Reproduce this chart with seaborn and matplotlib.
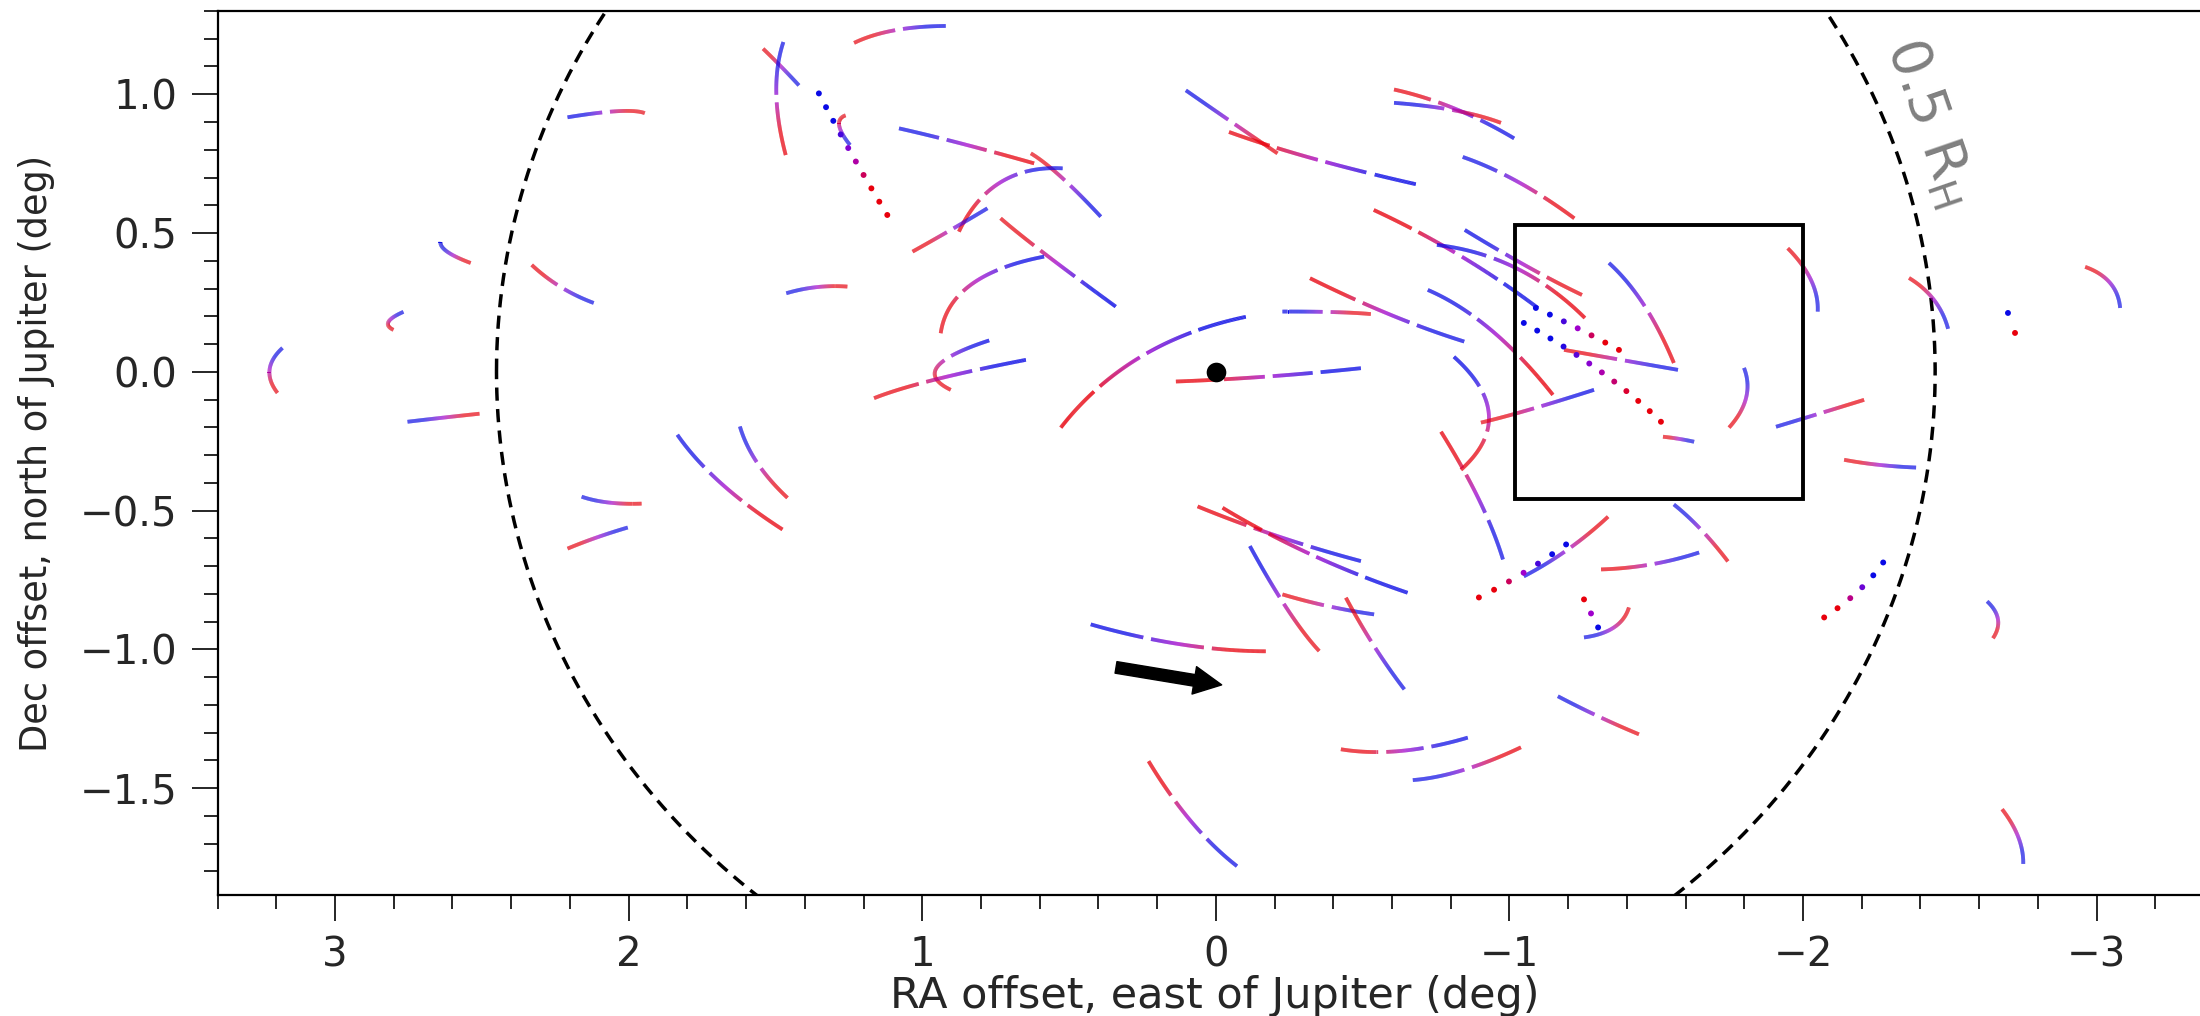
import numpy as np
import pandas as pd
import matplotlib
matplotlib.use("Agg")
import matplotlib.pyplot as plt
import seaborn as sns
from matplotlib.collections import LineCollection
from matplotlib.colors import LinearSegmentedColormap
from matplotlib.patches import Rectangle, FancyArrowPatch
from matplotlib.ticker import MultipleLocator

# Dashed tracks (deg): red end, middle point, blue end of each arc
red_x = [3.196, 2.801, 2.538, 2.330, 1.945, 2.508, 1.956, 2.208, 1.476, 1.459,
         -0.170, 0.062, -0.023, -0.352, -0.227, -0.443, -0.426, -1.039, 0.229, -0.835,
         -0.767, -0.903, -1.336, -1.407, -1.312, -1.744, -1.441, -2.647, -2.678, -1.948,
         -2.361, -2.961, -2.140, -2.208, -1.560, -1.186, -1.748, -1.523, -0.538, -1.257,
         -1.247, -1.148, 1.232, 1.542, 1.465, 1.261, 0.619, 0.630, 0.875, 1.033,
         0.733, 0.937, 1.255, 0.903, 1.164, 0.528, 0.136, -0.528, -0.321, -0.210,
         -0.045, -0.607, -0.971, -1.221]
red_y = [-0.076, 0.151, 0.392, 0.385, 0.932, -0.151, -0.475, -0.637, -0.568, -0.454,
         -1.007, -0.485, -0.490, -1.006, -0.802, -0.814, -1.360, -1.353, -1.403, -0.353,
         -0.216, -0.183, -0.522, -0.849, -0.712, -0.683, -1.306, -0.960, -1.576, 0.445,
         0.338, 0.378, -0.317, -0.101, 0.032, 0.079, -0.201, -0.234, 0.583, 0.194,
         0.277, -0.083, 1.185, 1.164, 0.781, 0.924, 0.751, 0.787, 0.505, 0.433,
         0.553, 0.139, 0.307, -0.065, -0.095, -0.201, -0.035, 0.208, 0.337, 0.787,
         0.864, 1.017, 0.897, 0.553]
mid_x = [3.223, 2.818, 2.617, 2.232, 2.037, 2.630, 2.068, 2.109, 1.687, 1.562,
         0.119, -0.210, -0.324, -0.244, -0.381, -0.539, -0.630, -0.842, 0.084, -0.930,
         -0.896, -1.066, -1.199, -1.356, -1.482, -1.652, -1.302, -2.664, -2.733, -2.027,
         -2.446, -3.046, -2.256, -2.054, -1.458, -1.380, -1.806, -1.574, -0.828, -1.022,
         -1.063, -0.937, 1.096, 1.482, 1.497, 1.283, 0.869, 0.528, 0.733, 0.903,
         0.585, 0.835, 1.360, 0.948, 0.960, 0.256, -0.176, -0.403, -0.596, -0.055,
         -0.329, -0.812, -0.812, -1.028]
mid_y = [0.007, 0.180, 0.432, 0.306, 0.939, -0.165, -0.471, -0.597, -0.400, -0.328,
         -0.982, -0.592, -0.658, -0.856, -0.844, -0.988, -1.366, -1.435, -1.620, -0.155,
         -0.460, -0.137, -0.640, -0.921, -0.694, -0.568, -1.241, -0.892, -1.676, 0.331,
         0.259, 0.320, -0.335, -0.151, 0.241, 0.043, -0.094, -0.241, 0.421, 0.374,
         0.378, 0.151, 1.230, 1.101, 1.003, 0.888, 0.823, 0.703, 0.683, 0.511,
         0.427, 0.313, 0.305, 0.019, -0.029, 0.054, -0.017, 0.215, 0.205, 0.899,
         0.769, 0.949, 0.942, 0.685]
blue_x = [3.179, 2.767, 2.641, 2.119, 2.208, 2.753, 2.160, 2.003, 1.834, 1.621,
          0.426, -0.494, -0.653, -0.116, -0.539, -0.642, -0.858, -0.671, -0.072, -0.811,
          -0.978, -1.288, -1.049, -1.254, -1.646, -1.560, -1.165, -2.627, -2.750, -2.050,
          -2.494, -3.080, -2.385, -1.908, -1.339, -1.574, -1.799, -1.629, -1.097, -0.753,
          -0.848, -0.722, 0.920, 1.420, 1.473, 1.246, 1.079, 0.392, 0.522, 0.778,
          0.341, 0.585, 1.463, 0.772, 0.647, -0.102, -0.494, -0.227, -0.846, 0.102,
          -0.681, -1.016, -0.607, -0.841]
blue_y = [0.086, 0.216, 0.468, 0.248, 0.917, -0.180, -0.450, -0.561, -0.227, -0.197,
          -0.910, -0.682, -0.796, -0.628, -0.874, -1.144, -1.318, -1.471, -1.781, 0.054,
          -0.676, -0.065, -0.737, -0.957, -0.651, -0.478, -1.169, -0.827, -1.773, 0.217,
          0.155, 0.230, -0.345, -0.198, 0.392, 0.007, 0.014, -0.252, 0.230, 0.457,
          0.511, 0.295, 1.246, 1.032, 1.188, 0.817, 0.877, 0.559, 0.733, 0.589,
          0.235, 0.415, 0.283, 0.113, 0.043, 0.198, 0.013, 0.217, 0.109, 1.014,
          0.676, 0.841, 0.969, 0.774]

# Dotted (faint) tracks
dot_red_x = [1.119, -0.896, -1.254, -2.072, -2.722, -1.373, -1.516]
dot_red_y = [0.565, -0.813, -0.820, -0.885, 0.140, 0.079, -0.180]
dot_mid_x = [1.244, -1.039, -1.278, -2.187, -2.709, -1.230, -1.312]
dot_mid_y = [0.791, -0.730, -0.871, -0.791, 0.176, 0.158, 0.000]
dot_blue_x = [1.352, -1.193, -1.302, -2.273, -2.698, -1.090, -1.049]
dot_blue_y = [1.003, -0.622, -0.921, -0.687, 0.212, 0.230, 0.176]

hill_radius = 2.45          # 0.5 R_H circle
box_x = (-1.02, -2.00)
box_y = (-0.46, 0.53)
arrow_tail = (0.34, -1.065)
arrow_tip = (-0.02, -1.128)

sns.set_style("ticks")
plt.rcParams['font.family'] = ['DejaVu Sans']

# red -> purple -> blue along each track
cmap = LinearSegmentedColormap.from_list(
    "track", [(0.0, "#e8000c"), (0.22, "#e8000c"), (0.5, "#a000cc"),
              (0.78, "#0a0ae6"), (1.0, "#0a0ae6")])

fig = plt.figure(figsize=(22, 10.16), dpi=100)
ax = fig.add_axes([0.0989, 0.1191, 0.9075, 0.8701])
ax.set_xlim(3.4, -3.4)
ax.set_ylim(-1.885, 1.3)


def curve(p_red, p_mid, p_blue, n=300):
    # quadratic curve through the three read-off points
    p0, pm, p2 = np.asarray(p_red), np.asarray(p_mid), np.asarray(p_blue)
    p1 = 2 * pm - (p0 + p2) / 2
    t = np.linspace(0, 1, n)[:, None]
    pts = (1 - t) ** 2 * p0 + 2 * (1 - t) * t * p1 + t ** 2 * p2
    disp = ax.transData.transform(pts)
    s = np.concatenate([[0], np.cumsum(np.hypot(*np.diff(disp, axis=0).T))])
    return pts, s


# dashed tracks
segs, cols = [], []
dash, gap = 46, 8
for rx, ry, mx, my, bx, by in zip(red_x, red_y, mid_x, mid_y, blue_x, blue_y):
    pts, s = curve((rx, ry), (mx, my), (bx, by))
    total = s[-1]
    n = max(1, int(round((total + gap) / (dash + gap))))
    d = (total - (n - 1) * gap) / n
    mids = (s[:-1] + s[1:]) / 2
    on = (mids % (d + gap)) < d
    seg = np.stack([pts[:-1], pts[1:]], axis=1)[on]
    segs.extend(seg)
    cols.extend(cmap(mids[on] / total))
ax.add_collection(LineCollection(segs, colors=cols, linewidths=2.7, capstyle="butt", zorder=3))

# dotted tracks
rows = []
for rx, ry, mx, my, bx, by in zip(dot_red_x, dot_red_y, dot_mid_x, dot_mid_y, dot_blue_x, dot_blue_y):
    pts, s = curve((rx, ry), (mx, my), (bx, by))
    k = max(2, int(s[-1] / 15) + 1)
    for v in np.linspace(0, s[-1], k):
        rows.append((np.interp(v, s, pts[:, 0]), np.interp(v, s, pts[:, 1]), v / s[-1]))
dots = pd.DataFrame(rows, columns=["x", "y", "f"])
sns.scatterplot(data=dots, x="x", y="y", hue="f", palette=cmap, hue_norm=(0, 1),
                s=18, linewidth=0, legend=False, ax=ax, zorder=3)

# 0.5 R_H circle
theta = np.linspace(0, 2 * np.pi, 1441)
sns.lineplot(x=hill_radius * np.cos(theta), y=hill_radius * np.sin(theta), sort=False,
             estimator=None, color="black", linewidth=2.5, ax=ax)
ax.lines[-1].set_linestyle((0, (3.8, 2.4)))

# Jupiter
sns.scatterplot(x=[0], y=[0], s=200, color="black", linewidth=0, ax=ax, zorder=5)

# zoom box
ax.add_patch(Rectangle((box_x[0], box_y[0]), box_x[1] - box_x[0], box_y[1] - box_y[0],
                       fill=False, edgecolor="black", linewidth=2.8, zorder=4))

# motion arrow
ax.add_patch(FancyArrowPatch(arrow_tail, arrow_tip,
                             arrowstyle="simple,head_length=1.0,head_width=1.0,tail_width=0.42",
                             mutation_scale=20, color="black", shrinkA=0, shrinkB=0, zorder=5))

ax.text(-2.43, 0.90, r"0.5 R$_\mathrm{H}$", rotation=-71, rotation_mode="anchor",
        ha="center", va="center", fontsize=40, color="gray")

ax.xaxis.set_major_locator(MultipleLocator(1))
ax.xaxis.set_minor_locator(MultipleLocator(0.2))
ax.yaxis.set_major_locator(MultipleLocator(0.5))
ax.yaxis.set_minor_locator(MultipleLocator(0.1))
ax.tick_params(which="major", direction="out", length=19, width=1.4, labelsize=29, pad=10,
               top=False, right=False)
ax.tick_params(which="minor", direction="out", length=10, width=1.4, top=False, right=False)
for side in ["left", "bottom", "top"]:
    ax.spines[side].set_linewidth(1.6)
    ax.spines[side].set_color("black")

ax.set_xlabel("RA offset, east of Jupiter (deg)", fontsize=31)
ax.set_ylabel("Dec offset, north of Jupiter (deg)", fontsize=26.5)
ax.xaxis.set_label_coords(0.4995, -0.0905)
ax.yaxis.set_label_coords(-0.0814, 0.5)

ax.set_xlim(3.4, -3.4)
ax.set_ylim(-1.885, 1.3)
fig.savefig("out.png", dpi=100)
